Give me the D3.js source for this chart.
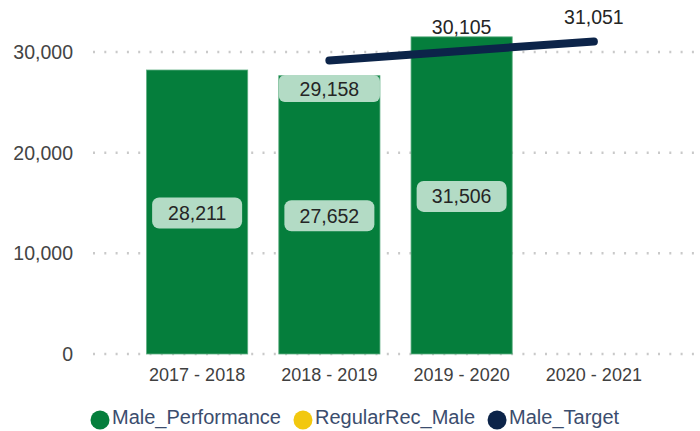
<!DOCTYPE html>
<html>
<head>
<meta charset="utf-8">
<script src="https://cdn.jsdelivr.net/npm/d3@7"></script>
<style>
  body { margin: 0; background: #fff; }
  svg { font-family: "Liberation Sans", Arial, sans-serif; }
</style>
</head>
<body>
<div id="chart"></div>
<script>
const categories = ['2017 - 2018', '2018 - 2019', '2019 - 2020', '2020 - 2021'];
const malePerformance = [28211, 27652, 31506, null];
const maleTarget = [null, 29158, 30105, 31051];
const yTicks = [0, 10000, 20000, 30000];
const legendNames = ['Male_Performance', 'RegularRec_Male', 'Male_Target'];
const legendColors = ['#057e3c', '#f2c80f', '#0c2449'];

const width = 700, height = 431;
const svg = d3.select('#chart').append('svg')
    .attr('width', width)
    .attr('height', height);

const x = d3.scaleBand()
    .domain(categories)
    .range([131, 660])
    .paddingInner(0.235)
    .paddingOuter(0.1175);

const y = d3.scaleLinear()
    .domain([0, 30000])
    .range([354, 52]);

const fmt = d3.format(',');

// dotted grid + y labels
svg.append('g').selectAll('line').data(yTicks).join('line')
    .attr('x1', 93).attr('x2', width)
    .attr('y1', d => y(d)).attr('y2', d => y(d))
    .attr('stroke', '#c9c9c9')
    .attr('stroke-width', 2.5)
    .attr('stroke-dasharray', '2,9.3');

svg.append('g').selectAll('text').data(yTicks).join('text')
    .attr('x', 73)
    .attr('y', d => y(d))
    .attr('dy', '0.36em')
    .attr('text-anchor', 'end')
    .style('font-size', '19.5px')
    .attr('fill', '#444')
    .text(d => fmt(d));

// x labels
svg.append('g').selectAll('text').data(categories).join('text')
    .attr('x', d => x(d) + x.bandwidth() / 2)
    .attr('y', 375)
    .attr('dy', '0.36em')
    .attr('text-anchor', 'middle')
    .style('font-size', '18px')
    .attr('fill', '#404040')
    .text(d => d);

// bars
const perf = categories.map((c, i) => ({cat: c, v: malePerformance[i]})).filter(d => d.v != null);
svg.append('g').selectAll('rect').data(perf).join('rect')
    .attr('x', d => x(d.cat))
    .attr('y', d => y(d.v))
    .attr('width', x.bandwidth())
    .attr('height', d => y(0) - y(d.v))
    .attr('fill', '#057e3c')
    .attr('stroke', '#5fae82')
    .attr('stroke-width', 0.8);

// bar value labels
const perfLabels = svg.append('g').selectAll('g').data(perf).join('g')
    .attr('transform', d => `translate(${x(d.cat) + x.bandwidth() / 2}, ${(y(d.v) + y(0)) / 2 + 1})`);
perfLabels.append('rect')
    .attr('x', -45).attr('y', -15.5)
    .attr('width', 90).attr('height', 31)
    .attr('rx', 7)
    .attr('fill', '#b3dbc5');
perfLabels.append('text')
    .attr('text-anchor', 'middle')
    .attr('dy', '0.36em')
    .style('font-size', '19.5px')
    .attr('fill', '#252525')
    .text(d => fmt(d.v));

// target line
const target = categories.map((c, i) => ({cat: c, v: maleTarget[i]})).filter(d => d.v != null);
const line = d3.line()
    .x(d => x(d.cat) + x.bandwidth() / 2)
    .y(d => y(d.v));

svg.append('path')
    .datum(target)
    .attr('d', line)
    .attr('fill', 'none')
    .attr('stroke', '#0c2449')
    .attr('stroke-width', 8)
    .attr('stroke-linecap', 'round')
    .attr('stroke-linejoin', 'round');

// target labels (first one is pushed below the point)
const labelBelow = [true, false, false];
const tLabels = svg.append('g').selectAll('g').data(target).join('g')
    .attr('transform', (d, i) => `translate(${x(d.cat) + x.bandwidth() / 2}, ${y(d.v) + (labelBelow[i] ? 28 : -24)})`);
tLabels.filter((d, i) => labelBelow[i]).append('rect')
    .attr('x', -x.bandwidth() / 2).attr('y', -13.5)
    .attr('width', x.bandwidth()).attr('height', 27)
    .attr('rx', 6)
    .attr('fill', '#b3dbc5');
tLabels.append('text')
    .attr('text-anchor', 'middle')
    .attr('dy', '0.36em')
    .style('font-size', '19.5px')
    .attr('fill', '#252525')
    .text(d => fmt(d.v));

// legend
const legend = svg.append('g');
let lx = 100;
legendNames.forEach((name, i) => {
    legend.append('circle')
        .attr('cx', lx).attr('cy', 420)
        .attr('r', 9.5)
        .attr('fill', legendColors[i]);
    const t = legend.append('text')
        .attr('x', lx + 12)
        .attr('y', 417)
        .attr('dy', '0.36em')
        .style('font-size', '20px')
        .attr('fill', '#3b4d6e')
        .text(name);
    lx += 12 + t.node().getComputedTextLength() + 22;
});
</script>
</body>
</html>
